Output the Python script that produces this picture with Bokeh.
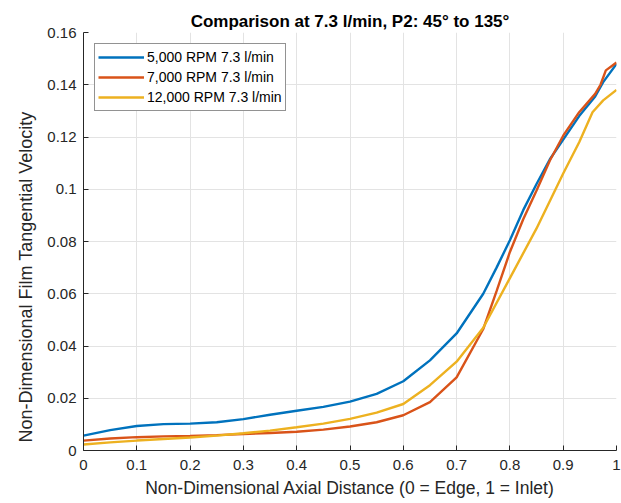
from bokeh.plotting import figure
from bokeh.models import Legend, LegendItem, FixedTicker, Range1d, CustomJSTickFormatter, Title
from bokeh.embed import file_html
from bokeh.resources import INLINE

title_text = "Comparison at 7.3 l/min, P2: 45° to 135°"
x_label = "Non-Dimensional Axial Distance (0 = Edge, 1 = Inlet)"
y_label = "Non-Dimensional Film Tangential Velocity"

x_ticks = [0, 0.1, 0.2, 0.3, 0.4, 0.5, 0.6, 0.7, 0.8, 0.9, 1.0]
y_ticks = [0, 0.02, 0.04, 0.06, 0.08, 0.1, 0.12, 0.14, 0.16]

series_names = ["5,000 RPM 7.3 l/min", "7,000 RPM 7.3 l/min", "12,000 RPM 7.3 l/min"]
series_colors = ["#0072BD", "#D95319", "#EDB120"]

x_5000 = [0, 0.05, 0.1, 0.15, 0.2, 0.25, 0.3, 0.35, 0.4, 0.45, 0.5, 0.55, 0.6,
          0.65, 0.7, 0.75, 0.775, 0.8, 0.825, 0.85, 0.875, 0.9, 0.93, 0.96, 0.975, 1.0]
y_5000 = [0.0057, 0.0078, 0.0094, 0.0101, 0.0103, 0.0108, 0.0120, 0.0137, 0.0152,
          0.0167, 0.0187, 0.0217, 0.0265, 0.0345, 0.0448, 0.0600, 0.0700, 0.0805,
          0.0920, 0.1020, 0.1115, 0.1190, 0.1280, 0.1355, 0.1410, 0.1480]

x_7000 = [0, 0.05, 0.1, 0.15, 0.2, 0.25, 0.3, 0.35, 0.4, 0.45, 0.5, 0.55, 0.6,
          0.65, 0.7, 0.75, 0.775, 0.8, 0.825, 0.85, 0.875, 0.9, 0.93, 0.96, 0.97, 0.98, 1.0]
y_7000 = [0.0038, 0.0046, 0.0051, 0.0054, 0.0056, 0.0059, 0.0063, 0.0067, 0.0072,
          0.0080, 0.0092, 0.0108, 0.0135, 0.0185, 0.0280, 0.0465, 0.0610, 0.0760,
          0.0885, 0.0995, 0.1110, 0.1205, 0.1295, 0.1365, 0.1400, 0.1455, 0.1485]

x_12000 = [0, 0.05, 0.1, 0.15, 0.2, 0.25, 0.3, 0.35, 0.4, 0.45, 0.5, 0.55, 0.6,
           0.65, 0.7, 0.75, 0.8, 0.85, 0.9, 0.93, 0.955, 0.975, 1.0]
y_12000 = [0.0023, 0.0031, 0.0038, 0.0044, 0.0050, 0.0057, 0.0066, 0.0076, 0.0089,
           0.0103, 0.0121, 0.0145, 0.0178, 0.0250, 0.0340, 0.0470, 0.0660, 0.0850,
           0.1060, 0.1180, 0.1295, 0.1340, 0.1380]

FONT = "Liberation Sans"
AX = "#262626"

p = figure(width=621, height=503, output_backend="svg", toolbar_location=None,
           x_range=Range1d(0, 1), y_range=Range1d(0, 0.16),
           min_border_left=83, min_border_right=5, min_border_top=32, min_border_bottom=53)

p.title.text = title_text
p.title.align = "center"
p.title.text_font = FONT
p.title.text_font_size = "17px"
p.title.text_font_style = "bold"
p.title.text_color = "#000000"
p.title.standoff = 4
p.title.offset = 0

p.outline_line_color = None

for ax in (p.xaxis[0], p.yaxis[0]):
    ax.axis_line_color = AX
    ax.axis_line_width = 1
    ax.major_tick_in = 5
    ax.major_tick_out = 0
    ax.major_tick_line_color = AX
    ax.minor_tick_line_color = None
    ax.major_label_text_font = FONT
    ax.major_label_text_font_size = "15px"
    ax.major_label_text_color = AX
    ax.axis_label_text_font = FONT
    ax.axis_label_text_font_size = "17.5px"
    ax.axis_label_text_font_style = "normal"
    ax.axis_label_text_color = AX

p.xaxis.ticker = FixedTicker(ticks=x_ticks)
p.yaxis.ticker = FixedTicker(ticks=y_ticks)
p.xaxis.formatter = CustomJSTickFormatter(code="return String(parseFloat(tick.toFixed(4)));")
p.yaxis.formatter = CustomJSTickFormatter(code="return String(parseFloat(tick.toFixed(4)));")
p.xaxis.axis_label = x_label
p.xaxis.major_label_standoff = 9
p.yaxis.major_label_standoff = 7
p.xaxis.axis_label_standoff = 5

# y-axis title as a side title, sitting a little below the axis centre as in the original
ytitle = Title(text=y_label, align="left", offset=8, standoff=17,
               text_font=FONT, text_font_size="18px", text_font_style="normal",
               text_color=AX)
p.add_layout(ytitle, "left")

p.xgrid.grid_line_color = "#e3e3e3"
p.ygrid.grid_line_color = "#e3e3e3"

renderers = []
for xs, ys, c in [(x_5000, y_5000, series_colors[0]),
                  (x_7000, y_7000, series_colors[1]),
                  (x_12000, y_12000, series_colors[2])]:
    r = p.line(xs, ys, line_color=c, line_width=2.4)
    renderers.append(r)

legend = Legend(items=[LegendItem(label=n, renderers=[r]) for n, r in zip(series_names, renderers)],
                location="top_left")
legend.label_text_font = FONT
legend.label_text_font_size = "14px"
legend.label_text_color = "#000000"
legend.glyph_width = 46
legend.glyph_height = 20
legend.label_height = 20
legend.spacing = 0
legend.padding = 3
legend.margin = 11
legend.label_standoff = 3
legend.border_line_color = AX
legend.border_line_width = 1
legend.background_fill_alpha = 1
p.add_layout(legend)

open("out.html", "w").write(file_html(p, INLINE))
